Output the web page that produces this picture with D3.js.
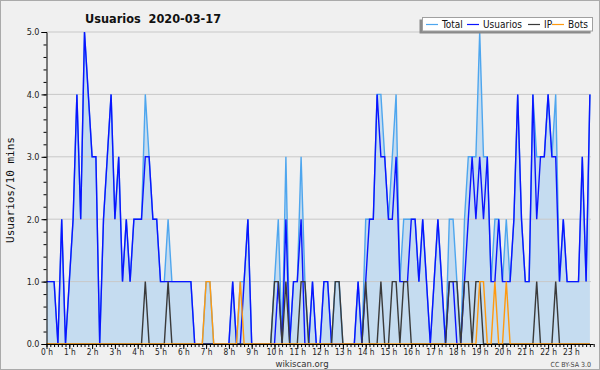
<!DOCTYPE html>
<html>
<head>
<meta charset="utf-8">
<script src="https://cdn.jsdelivr.net/npm/d3@7"></script>
<style>
body { margin: 0; background: #f0f0f0; }
svg { display: block; font-family: "DejaVu Sans Condensed", "DejaVu Sans", sans-serif; }
</style>
</head>
<body>
<div id="chart"></div>
<script>
// one value every 10 minutes, 144 per day
const title = "Usuarios  2020-03-17";
const yLabel = "Usuarios/10 mins";
const hourLabels = ["0 h","1 h","2 h","3 h","4 h","5 h","6 h","7 h","8 h","9 h","10 h","11 h",
	"12 h","13 h","14 h","15 h","16 h","17 h","18 h","19 h","20 h","21 h","22 h","23 h"];
const yTicks = [0, 1, 2, 3, 4, 5];
const seriesNames = ["Total", "Usuarios", "IP", "Bots"];

const total = [
	1,1,1,0,2,0,1,2,4,2, 5,4,3,3,0,2,3,4,2,3, 1,2,1,2,2,2,4,3,2,2,
	1,1,2,1,1,1,1,1,1,0, 0,0,1,1,0,0,0,0,0,1, 0,1,1,2,0,0,0,0,0,0,
	1,2,0,3,0,1,1,3,1,0, 1,0,0,1,1,0,1,1,0,0, 0,0,1,0,2,2,2,4,4,3,
	2,3,4,1,2,2,2,2,1,2, 1,0,1,2,1,0,2,2,1,0, 2,3,3,3,5,3,3,1,2,2,
	1,2,1,2,4,2,1,1,4,3, 3,3,4,3,4,1,2,1,1,1, 1,3,1,4];
const usuarios = [
	1,1,1,0,2,0,1,2,4,2, 5,4,3,3,0,2,3,4,2,3, 1,2,1,2,2,2,3,3,2,2,
	1,1,1,1,1,1,1,1,1,0, 0,0,0,0,0,0,0,0,0,1, 0,0,1,2,0,0,0,0,0,0,
	0,1,0,2,0,1,1,2,0,0, 1,0,0,1,1,0,0,0,0,0, 0,0,1,0,1,2,2,4,3,3,
	2,2,3,1,1,1,2,2,1,2, 1,0,1,2,1,0,1,1,0,0, 1,2,3,2,3,2,3,1,1,2,
	1,1,1,2,4,2,1,1,4,2, 3,3,4,3,3,1,2,1,1,1, 1,3,1,4];
const ip = [
	0,0,0,0,0,0,0,0,0,0, 0,0,0,0,0,0,0,0,0,0, 0,0,0,0,0,0,1,0,0,0,
	0,0,1,0,0,0,0,0,0,0, 0,0,0,0,0,0,0,0,0,0, 0,0,0,0,0,0,0,0,0,0,
	1,1,0,1,0,0,0,1,1,0, 0,0,0,0,0,0,1,1,0,0, 0,0,0,0,1,0,0,0,1,0,
	0,1,1,0,1,1,0,0,0,0, 0,0,0,0,0,0,1,1,1,0, 1,1,0,1,1,0,0,0,0,0,
	0,0,0,0,0,0,0,0,0,1, 0,0,0,0,1,0,0,0,0,0, 0,0,0,0];
const bots = [
	0,0,0,0,0,0,0,0,0,0, 0,0,0,0,0,0,0,0,0,0, 0,0,0,0,0,0,0,0,0,0,
	0,0,0,0,0,0,0,0,0,0, 0,0,1,1,0,0,0,0,0,0, 0,1,0,0,0,0,0,0,0,0,
	0,0,0,0,0,0,0,0,0,0, 0,0,0,0,0,0,0,0,0,0, 0,0,0,0,0,0,0,0,0,0,
	0,0,0,0,0,0,0,0,0,0, 0,0,0,0,0,0,0,0,0,0, 0,0,0,0,1,1,0,0,1,0,
	0,1,0,0,0,0,0,0,0,0, 0,0,0,0,0,0,0,0,0,0, 0,0,0,0];

const colors = { Total: "#4ea6ee", Usuarios: "#0a14ff", IP: "#3a3a3a", Bots: "#ff9a10" };
const series = { Total: total, Usuarios: usuarios, IP: ip, Bots: bots };

const w = 600;
const h = 370;

const svg = d3.select("#chart")
	.append("svg")
	.attr("width", w)
	.attr("height", h);

svg.append("rect")
	.attr("x", 0.5).attr("y", 0.5)
	.attr("width", w - 1).attr("height", h - 1)
	.attr("fill", "#f0f0f0")
	.attr("stroke", "#aaaaaa");

const xScale = d3.scaleLinear()
	.domain([0, 144])
	.range([46.5, 593.7]);
const yScale = d3.scaleLinear()
	.domain([0, 5])
	.range([344, 32]);

// filled total
const area = d3.area()
	.x((d, i) => xScale(i))
	.y0(yScale(0))
	.y1(d => yScale(d));
svg.append("path")
	.datum(total)
	.attr("d", area)
	.attr("fill", "#c5dcf0");

// grid
svg.append("g")
	.selectAll("line")
	.data(yTicks.filter(v => v > 0))
	.enter()
	.append("line")
	.attr("x1", xScale(0))
	.attr("x2", xScale(143) + 1)
	.attr("y1", d => yScale(d))
	.attr("y2", d => yScale(d))
	.attr("stroke", "#c8c8c8")
	.attr("stroke-width", 1);

const line = d3.line()
	.x((d, i) => xScale(i))
	.y(d => yScale(d));

seriesNames.forEach(name => {
	svg.append("path")
		.datum(series[name])
		.attr("d", line)
		.attr("fill", "none")
		.attr("stroke", colors[name])
		.attr("stroke-width", 1.4)
		.attr("stroke-linejoin", "miter");
});

// axes
const xMinor = d3.axisBottom(xScale)
	.tickValues(d3.range(0, 145))
	.tickSize(3)
	.tickFormat("");
const xAxis = d3.axisBottom(xScale)
	.tickValues(d3.range(0, 144, 6))
	.tickSize(5)
	.tickPadding(0)
	.tickFormat(d => hourLabels[d / 6]);

svg.append("g")
	.attr("transform", "translate(0,344)")
	.call(xMinor)
	.call(g => g.select(".domain").remove());
const gx = svg.append("g")
	.attr("id", "x-axis")
	.attr("transform", "translate(0,344)")
	.call(xAxis);
gx.select(".domain").attr("d", "M46.5,0.5H593.7").attr("stroke", "#000");
gx.selectAll("text")
	.attr("font-family", "DejaVu Sans Condensed")
	.attr("font-size", 8.3)
	.attr("fill", "#222");

const yMinor = d3.axisLeft(yScale)
	.tickValues(d3.range(0, 5.01, 0.2))
	.tickSize(3)
	.tickFormat("");
const yAxis = d3.axisLeft(yScale)
	.tickValues(yTicks)
	.tickSize(5)
	.tickPadding(2)
	.tickFormat(d3.format(".1f"));

svg.append("g")
	.attr("transform", "translate(46.5,0)")
	.call(yMinor)
	.call(g => g.select(".domain").remove());
const gy = svg.append("g")
	.attr("id", "y-axis")
	.attr("transform", "translate(46.5,0)")
	.call(yAxis);
gy.selectAll("text")
	.attr("font-family", "DejaVu Sans Condensed")
	.attr("font-size", 9)
	.attr("fill", "#222");

// texts
svg.append("text")
	.attr("x", 85)
	.attr("y", 23)
	.attr("font-size", 12.6)
	.attr("font-weight", "bold")
	.attr("fill", "#111")
	.attr("xml:space", "preserve")
	.text(title);

svg.append("text")
	.attr("transform", "translate(14,190) rotate(-90)")
	.attr("text-anchor", "middle")
	.attr("font-family", "DejaVu Sans Mono")
	.attr("font-size", 11)
	.attr("fill", "#111")
	.text(yLabel);

svg.append("text")
	.attr("x", 302)
	.attr("y", 367)
	.attr("text-anchor", "middle")
	.attr("font-size", 9.5)
	.attr("fill", "#333")
	.text("wikiscan.org");

svg.append("text")
	.attr("x", 591)
	.attr("y", 367)
	.attr("text-anchor", "end")
	.attr("font-size", 7)
	.attr("fill", "#444")
	.text("CC BY-SA 3.0");

// legend
const legend = svg.append("g");
legend.append("rect")
	.attr("x", 419.5).attr("y", 19.5)
	.attr("width", 171).attr("height", 14)
	.attr("fill", "#8a8a8a");
legend.append("rect")
	.attr("x", 422.5).attr("y", 17.5)
	.attr("width", 170).attr("height", 13.5)
	.attr("fill", "#ffffff")
	.attr("stroke", "#a0a0a0");

const legendX = [426, 467, 528, 552];
seriesNames.forEach((name, i) => {
	legend.append("line")
		.attr("x1", legendX[i]).attr("x2", legendX[i] + 12)
		.attr("y1", 24.5).attr("y2", 24.5)
		.attr("stroke", colors[name])
		.attr("stroke-width", 1.2);
	legend.append("text")
		.attr("x", legendX[i] + 16)
		.attr("y", 28)
		.attr("font-size", 10)
		.attr("fill", "#111")
		.text(name);
});
</script>
</body>
</html>
